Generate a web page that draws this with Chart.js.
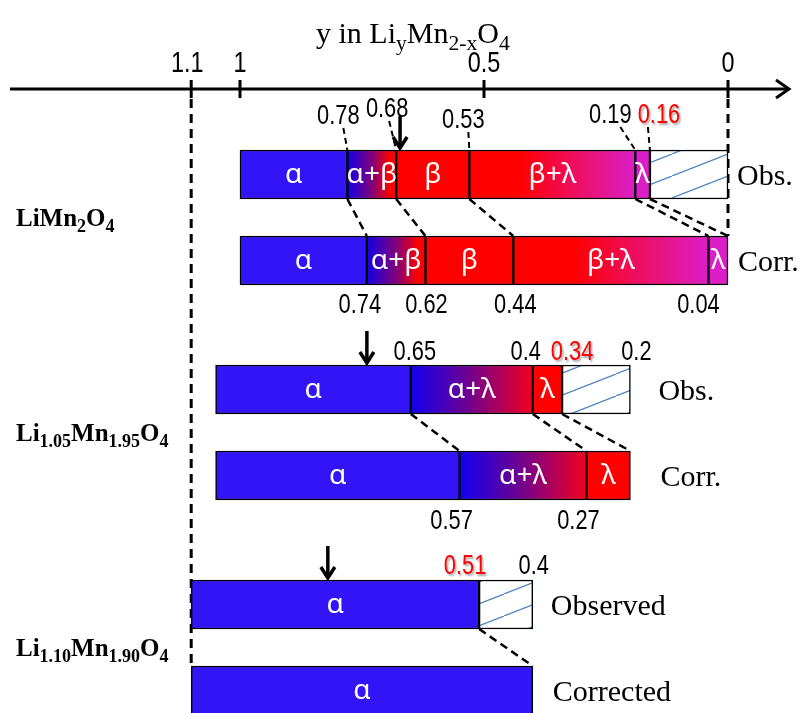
<!DOCTYPE html>
<html>
<head>
<meta charset="utf-8">
<script src="https://cdn.jsdelivr.net/npm/chart.js@4"></script>
<style>
  html, body { margin: 0; padding: 0; background: #fff; }
  #wrap { width: 801px; height: 713px; position: relative; }
</style>
</head>
<body>
<div id="wrap"><canvas id="phaseChart"></canvas></div>
<script>
// one bar per row, top to bottom; edges are y in LiyMn2-xO4
const compounds = [
    ['Li', '', 'Mn', '2', 'O', '4'],
    ['Li', '1.05', 'Mn', '1.95', 'O', '4'],
    ['Li', '1.10', 'Mn', '1.90', 'O', '4']
];
const rowCompound = [0, 0, 1, 1, 2, 2];
const rowSlot = [0, 2, 5, 7, 10, 12];
const rowTags = ['Obs.', 'Corr.', 'Obs.', 'Corr.', 'Observed', 'Corrected'];
const rowEdges = [
    [1, 0.78, 0.68, 0.53, 0.19, 0.16, 0],
    [1, 0.74, 0.62, 0.44, 0.04, 0],
    [1.05, 0.65, 0.4, 0.34, 0.2],
    [1.05, 0.55, 0.29, 0.2],
    [1.1, 0.51, 0.4],
    [1.1, 0.4]
];
// '' = region not reached (hatched)
const rowPhases = [
    ['α', 'α+β', 'β', 'β+λ', 'λ', ''],
    ['α', 'α+β', 'β', 'β+λ', 'λ'],
    ['α', 'α+λ', 'λ', ''],
    ['α', 'α+λ', 'λ'],
    ['α', ''],
    ['α']
];
const edgeTexts = [
    ['0.78', '0.68', '0.53', '0.19', '0.16'],
    ['0.74', '0.62', '0.44', '0.04'],
    ['0.65', '0.4', '0.34', '0.2'],
    ['0.57', '0.27'],
    ['0.51', '0.4'],
    []
];
const observedLimit = ['0.16', null, '0.34', null, '0.51', null];
const arrowAt = [0.672, null, 0.74, null, 0.82, null];
const axisTicks = [1.1, 1, 0.5, 0];
const axisTickText = ['1.1', '1', '0.5', '0'];

// layout only
const BAR_T = 49;
const tagGap = [9, 10, 28, 30, 18, 20];
const labelDx = [[-9, -9, -6, -25, 9], [-7, 1, 2, -10], [4, -7, 10, 6], [-8, -8], [-14, 1], []];
const labelDy = [[-26, -33, -22, -27, -27], [28, 28, 28, 28], [-5, -5, -5, -5], [29, 29], [-6, -6], []];
const leaderDx = [-4, -7, -1, -15, -2];

const BLUE = '#3214f6', RED = '#ff0000', MAGENTA = '#dc1ec8';
const SANS = '"Liberation Sans", Arial, sans-serif';
const SERIF = '"Liberation Serif", serif';

const segments = [];
rowPhases.forEach((phases, r) => {
    phases.forEach((phase, i) => {
        segments.push({ x: [rowEdges[r][i], rowEdges[r][i + 1]], y: rowSlot[r], phase: phase, row: r });
    });
});

const hatch = (() => {
    const c = document.createElement('canvas');
    c.width = 56; c.height = 22;
    const g = c.getContext('2d');
    g.fillStyle = '#fff';
    g.fillRect(0, 0, 56, 22);
    g.strokeStyle = '#4f82c2';
    g.lineWidth = 1.2;
    g.beginPath(); g.moveTo(0, 22); g.lineTo(56, 0); g.stroke();
    return g.createPattern(c, 'repeat');
})();

function fillFor(context) {
    const raw = context.raw;
    if (!raw) return BLUE;
    const chart = context.chart;
    const xs = chart.scales.x;
    if (raw.phase === '') return hatch;
    if (raw.phase === 'α') return BLUE;
    if (raw.phase === 'β') return RED;
    if (raw.phase === 'λ') return rowCompound[raw.row] === 0 ? MAGENTA : RED;
    if (!xs || !chart.ctx) return RED;
    const p0 = xs.getPixelForValue(raw.x[0]);
    const p1 = xs.getPixelForValue(raw.x[1]);
    const grad = chart.ctx.createLinearGradient(p0, 0, p1, 0);
    if (raw.phase === 'α+β') {
        grad.addColorStop(0, '#1400e6');
        grad.addColorStop(0.5, '#80007c');
        grad.addColorStop(0.88, RED);
        grad.addColorStop(1, RED);
    } else if (raw.phase === 'α+λ') {
        grad.addColorStop(0, '#1000f0');
        grad.addColorStop(0.45, '#6a0095');
        grad.addColorStop(1, '#f20020');
    } else {
        grad.addColorStop(0, RED);
        grad.addColorStop(0.3, RED);
        grad.addColorStop(1, MAGENTA);
    }
    return grad;
}

function drawRich(ctx, parts, x, y, size, weight) {
    parts.forEach((p, i) => {
        if (!p) return;
        const sub = i % 2 === 1;
        ctx.font = `${weight} ${sub ? size * 0.72 : size}px ${SERIF}`;
        ctx.fillText(p, x, sub ? y + size * 0.24 : y);
        x += ctx.measureText(p).width;
    });
}

// condensed digits, like Arial Narrow
function narrowText(ctx, text, x, y, size) {
    ctx.save();
    ctx.font = `${size}px ${SANS}`;
    ctx.textAlign = 'center';
    ctx.translate(x, y);
    ctx.scale(0.78, 1);
    ctx.fillText(text, 0, 0);
    ctx.restore();
}

function dashed(ctx, x0, y0, x1, y1, width, dash) {
    ctx.save();
    ctx.strokeStyle = '#000';
    ctx.lineWidth = width;
    ctx.setLineDash(dash);
    ctx.beginPath(); ctx.moveTo(x0, y0); ctx.lineTo(x1, y1); ctx.stroke();
    ctx.restore();
}

const overlay = {
    id: 'overlay',
    beforeDatasetsDraw(chart) {
        const ctx = chart.ctx, xs = chart.scales.x, ys = chart.scales.y;
        const top = r => ys.getPixelForValue(rowSlot[r]) - BAR_T / 2;
        const bottom = r => ys.getPixelForValue(rowSlot[r]) + BAR_T / 2;
        ctx.save();

        // axis with arrow
        ctx.strokeStyle = '#000';
        ctx.lineWidth = 3;
        ctx.beginPath(); ctx.moveTo(10, 89); ctx.lineTo(788, 89); ctx.stroke();
        ctx.beginPath(); ctx.moveTo(776, 80); ctx.lineTo(789, 89); ctx.lineTo(776, 98); ctx.stroke();
        ctx.fillStyle = '#000';
        axisTicks.forEach((t, i) => {
            const px = xs.getPixelForValue(t);
            ctx.beginPath(); ctx.moveTo(px, 80); ctx.lineTo(px, 98); ctx.stroke();
            narrowText(ctx, axisTickText[i], px - (i === 0 ? 4 : 0), 72, 30);
        });
        ctx.textAlign = 'left';
        drawRich(ctx, ['y in Li', 'y', 'Mn', '2-x', 'O', '4'], 316, 43, 30, 'normal');

        // guide lines at the two ends
        dashed(ctx, xs.getPixelForValue(1.1), 99, xs.getPixelForValue(1.1), top(5), 3, [9, 6]);
        dashed(ctx, xs.getPixelForValue(0), 99, xs.getPixelForValue(0), top(1), 3, [9, 6]);

        // observed -> corrected connectors
        [0, 2, 4].forEach(r => {
            for (let i = 1; i < rowEdges[r + 1].length; i++) {
                dashed(ctx, xs.getPixelForValue(rowEdges[r][i]), bottom(r),
                    xs.getPixelForValue(rowEdges[r + 1][i]), top(r + 1), 2.5, [8, 5]);
            }
        });

        // leaders from the top-row labels
        edgeTexts[0].forEach((t, i) => {
            const bx = xs.getPixelForValue(rowEdges[0][i + 1]);
            dashed(ctx, bx + leaderDx[i], top(0) + labelDy[0][i] + 4, bx, top(0), 2, [6, 4]);
        });
        ctx.restore();
    },
    afterDatasetsDraw(chart) {
        const ctx = chart.ctx, xs = chart.scales.x, ys = chart.scales.y;
        const meta = chart.getDatasetMeta(0);
        ctx.save();

        // phase names inside the bars
        ctx.fillStyle = '#fff';
        ctx.textAlign = 'center';
        ctx.textBaseline = 'middle';
        ctx.font = '28px "Noto Sans", sans-serif';
        meta.data.forEach((el, i) => {
            const seg = segments[i];
            if (!seg.phase) return;
            ctx.fillText(seg.phase, (el.x + el.base) / 2, el.y + 1);
        });

        ctx.textBaseline = 'alphabetic';
        rowSlot.forEach((slot, r) => {
            const cy = ys.getPixelForValue(slot);
            const obs = r % 2 === 0;
            const edgeY = obs ? cy - BAR_T / 2 : cy + BAR_T / 2;

            // boundary values
            edgeTexts[r].forEach((t, i) => {
                const px = xs.getPixelForValue(rowEdges[r][i + 1]) + labelDx[r][i];
                ctx.save();
                if (t === observedLimit[r]) {
                    ctx.fillStyle = '#ff0000';
                    ctx.shadowColor = 'rgba(0,0,0,0.35)';
                    ctx.shadowOffsetX = 1.5;
                    ctx.shadowOffsetY = 1.5;
                    ctx.shadowBlur = 2;
                } else {
                    ctx.fillStyle = '#000';
                }
                narrowText(ctx, t, px, edgeY + labelDy[r][i], 28);
                ctx.restore();
            });

            // arrows
            if (arrowAt[r] !== null) {
                const ax = xs.getPixelForValue(arrowAt[r]);
                const tip = edgeY - 2;
                ctx.strokeStyle = '#000';
                ctx.lineWidth = 3.5;
                ctx.beginPath(); ctx.moveTo(ax, tip - 32); ctx.lineTo(ax, tip); ctx.stroke();
                ctx.beginPath(); ctx.moveTo(ax - 7, tip - 11); ctx.lineTo(ax, tip); ctx.lineTo(ax + 7, tip - 11); ctx.stroke();
            }

            // Obs. / Corr. tags
            ctx.fillStyle = '#000';
            ctx.textAlign = 'left';
            ctx.font = `30px ${SERIF}`;
            const end = xs.getPixelForValue(rowEdges[r][rowEdges[r].length - 1]);
            ctx.fillText(rowTags[r], end + tagGap[r], cy + 10);
        });

        // compound names
        ctx.fillStyle = '#000';
        ctx.textAlign = 'left';
        compounds.forEach((parts, k) => {
            const mid = (rowSlot[2 * k] + rowSlot[2 * k + 1]) / 2;
            drawRich(ctx, parts, 16, ys.getPixelForValue(mid) + 8, 25, 'bold');
        });
        ctx.restore();
    }
};

new Chart(document.getElementById('phaseChart'), {
    type: 'bar',
    data: {
        datasets: [{
            data: segments,
            backgroundColor: fillFor,
            borderColor: '#000',
            borderWidth: 1.5,
            borderSkipped: false,
            barThickness: BAR_T,
            clip: false
        }]
    },
    options: {
        indexAxis: 'y',
        responsive: true, maintainAspectRatio: false,
        animation: false,
        layout: { padding: { left: 10, right: 16, top: 153, bottom: 1 } },
        plugins: { legend: { display: false }, tooltip: { enabled: false } },
        scales: {
            x: { type: 'linear', display: false, offset: false, reverse: true, min: -0.1168, max: 1.4713 },
            y: { type: 'linear', display: false, offset: false, reverse: true, min: -0.5, max: 12.5 }
        }
    },
    plugins: [overlay]
});
</script>
</body>
</html>
